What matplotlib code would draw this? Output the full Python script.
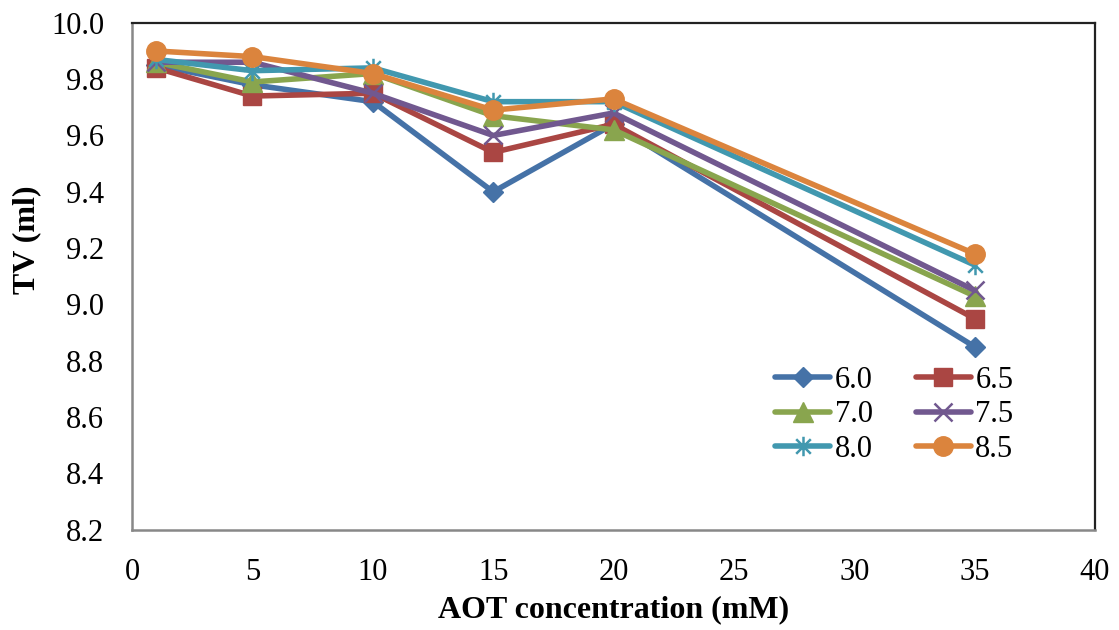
import matplotlib
matplotlib.use("Agg")
import matplotlib.pyplot as plt
from matplotlib.path import Path

# AOT concentration (mM) and titre volume (ml) for each pH
aot_conc = [1, 5, 10, 15, 20, 35]
ph_labels = ["6.0", "6.5", "7.0", "7.5", "8.0", "8.5"]
tv_ph60 = [9.85, 9.78, 9.72, 9.40, 9.64, 8.85]
tv_ph65 = [9.84, 9.74, 9.75, 9.54, 9.64, 8.95]
tv_ph70 = [9.86, 9.79, 9.82, 9.67, 9.62, 9.03]
tv_ph75 = [9.86, 9.86, 9.75, 9.60, 9.68, 9.05]
tv_ph80 = [9.87, 9.83, 9.84, 9.72, 9.72, 9.14]
tv_ph85 = [9.90, 9.88, 9.82, 9.69, 9.73, 9.18]
x_ticks = [0, 5, 10, 15, 20, 25, 30, 35, 40]
y_ticks = [8.2, 8.4, 8.6, 8.8, 9.0, 9.2, 9.4, 9.6, 9.8, 10.0]

plt.rcParams["font.family"] = ["Liberation Serif", "DejaVu Serif"]

# asterisk: vertical stroke plus two diagonals
star_path = Path(
    [(0, -1), (0, 1), (-0.75, -0.75), (0.75, 0.75), (-0.75, 0.75), (0.75, -0.75)],
    [Path.MOVETO, Path.LINETO, Path.MOVETO, Path.LINETO, Path.MOVETO, Path.LINETO],
)

series = [
    (tv_ph60, "#4572A7", "D", 10, 1.0),
    (tv_ph65, "#AA4643", "s", 13, 1.0),
    (tv_ph70, "#89A54E", "^", 14, 1.0),
    (tv_ph75, "#71588F", "x", 13, 1.8),
    (tv_ph80, "#4198AF", star_path, 14, 1.8),
    (tv_ph85, "#DB843D", "o", 14, 1.0),
]

fig = plt.figure(figsize=(11.19, 6.3), dpi=100)
ax = fig.add_axes([0.118, 0.159, 0.8606, 0.8048])

handles = []
for (vals, color, marker, ms, mew), label in zip(series, ph_labels):
    h, = ax.plot(aot_conc, vals, color=color, lw=4, marker=marker, ms=ms,
                 mfc=color, mec=color, mew=mew, label=label,
                 solid_capstyle="round", solid_joinstyle="round")
    handles.append(h)

ax.set_xlim(0, 40)
ax.set_ylim(8.2, 10.0)
ax.set_xticks(x_ticks)
ax.set_yticks(y_ticks)
ax.set_yticklabels([f"{v:.1f}" for v in y_ticks])
ax.tick_params(axis="both", length=0, labelsize=22)
ax.tick_params(axis="x", pad=20)
ax.tick_params(axis="y", pad=20)

for side in ("left", "bottom"):
    ax.spines[side].set_color("#888888")
    ax.spines[side].set_linewidth(1.8)
for side in ("top", "right"):
    ax.spines[side].set_color("#222222")
    ax.spines[side].set_linewidth(1.6)

ax.set_xlabel("AOT concentration (mM)", fontsize=23, fontweight="bold", labelpad=6)
ax.set_ylabel("TV (ml)", fontsize=23, fontweight="bold")
ax.yaxis.set_label_coords(-0.094, 0.572)

# two columns, filled row by row
order = [0, 2, 4, 1, 3, 5]
ax.legend([handles[i] for i in order], [ph_labels[i] for i in order],
          loc="upper left", bbox_to_anchor=(0.668, 0.324), ncol=2, frameon=False,
          fontsize=22, handlelength=1.8, handletextpad=0.15, columnspacing=1.4,
          labelspacing=0.19, borderpad=0, borderaxespad=0)

fig.savefig("out.png", dpi=100)
